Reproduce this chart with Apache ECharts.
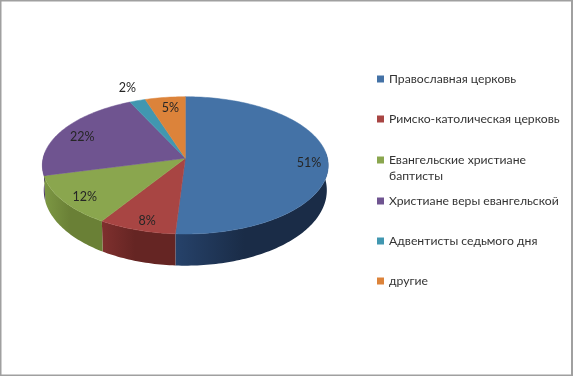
<!DOCTYPE html>
<html>
<head>
<meta charset="utf-8">
<script src="https://cdn.jsdelivr.net/npm/echarts@6/dist/echarts.min.js"></script>
<style>
html, body { margin: 0; padding: 0; background: #fff; }
#main { position: absolute; left: 0; top: 0; width: 573px; height: 376px; }
</style>
</head>
<body>
<div id="main"></div>
<script>
var categories = ['Православная церковь', 'Римско-католическая церковь', 'Евангельские христиане баптисты', 'Христиане веры евангельской', 'Адвентисты седьмого дня', 'другие'];
var shares = [51, 8, 12, 22, 2, 5];
var colors = ['#4472a6', '#a84543', '#8aa64e', '#6f5490', '#4197b0', '#dc833a'];
var wallColors = [['#26426a', '#1a2c47'], ['#7f302e', '#652523'], ['#7d9844', '#6a8036'], ['#4a3864', '#4a3864'], ['#2c6678', '#2c6678'], ['#96592a', '#96592a']];
var labelRadius = [0.85, 0.85, 0.85, 0.85, 1.3, 0.85];

var myChart = echarts.init(document.getElementById('main'));

// центр и наклон диска, с перспективой как в объёмной диаграмме
var cx = 185.3, cy = 158.3, rx = 142.2, ry = 67.9, tilt = 0.1027;
var total = shares.reduce(function (a, b) { return a + b; }, 0);
// стенка видна только спереди
var wallFrom = 84.3 * Math.PI / 180, wallTo = 275.7 * Math.PI / 180;

function project(angle, r) {
    var u = r * Math.sin(angle), v = -r * Math.cos(angle), w = 1 - tilt * v;
    return [cx + rx * u / w, cy + ry * v / w];
}

function upper(angle) {
    return project(angle, 1);
}

function lower(angle) {
    var p = project(angle, 1), v = -Math.cos(angle);
    return [cx + (p[0] - cx) * 0.99, p[1] + 24.1 + 7.6 * v];
}

function arc(a0, a1, fn) {
    var pts = [], n = Math.ceil((a1 - a0) / 0.02);
    for (var i = 0; i <= n; i++) {
        pts.push(fn(a0 + (a1 - a0) * i / n));
    }
    return pts;
}

function renderSlice(params, api) {
    var idx = params.seriesIndex;
    var from = api.value(0), value = api.value(1);
    var a0 = from / total * Math.PI * 2, a1 = (from + value) / total * Math.PI * 2;
    var mid = project((a0 + a1) / 2, labelRadius[idx]);
    var children = [{
        type: 'polygon',
        z2: 2,
        shape: { points: [[cx, cy]].concat(arc(a0, a1, upper)) },
        style: { fill: colors[idx], stroke: colors[idx], lineWidth: 0.5 }
    }, {
        type: 'text',
        z2: 3,
        style: {
            x: mid[0] + 2.5,
            y: mid[1] + 2.5,
            text: value + '%',
            fill: '#262626',
            font: '12.5px Lato',
            align: 'center',
            verticalAlign: 'middle'
        }
    }];
    var w0 = Math.max(a0, wallFrom), w1 = Math.min(a1, wallTo);
    if (w1 > w0) {
        children.push({
            type: 'polygon',
            z2: 1,
            shape: { points: arc(w0, w1, upper).concat(arc(w0, w1, lower).reverse()) },
            style: {
                fill: new echarts.graphic.LinearGradient(0, 0, 1, 0, [
                    { offset: 0, color: wallColors[idx][0] },
                    { offset: 0.45, color: wallColors[idx][1] },
                    { offset: 1, color: wallColors[idx][1] }
                ])
            }
        });
    }
    return { type: 'group', children: children };
}

var running = 0;
var series = categories.map(function (name, i) {
    var item = {
        type: 'custom',
        name: name,
        coordinateSystem: 'none',
        silent: true,
        itemStyle: { color: colors[i] },
        renderItem: renderSlice,
        data: [[running, shares[i]]]
    };
    running += shares[i];
    return item;
});

function legendBlock(names, top) {
    return {
        left: 372,
        top: top,
        orient: 'vertical',
        itemWidth: 7,
        itemHeight: 7,
        itemGap: 24,
        selectedMode: false,
        textStyle: { fontFamily: 'Lato', fontSize: 12.2, color: '#333', lineHeight: 16 },
        // пустая первая строка, чтобы маркер стоял напротив первой строки подписи
        formatter: function (name) {
            return name.replace(/^(.*христиане) (баптисты)$/, '\n$1\n$2');
        },
        icon: 'rect',
        data: names
    };
}

myChart.setOption({
    animation: false,
    legend: [
        legendBlock(categories.slice(0, 2), 66),
        legendBlock(categories.slice(2, 3), 131),
        legendBlock(categories.slice(3), 188)
    ],
    graphic: [{
        type: 'rect',
        silent: true,
        shape: { x: 0.5, y: 0.5, width: 571.5, height: 375 },
        style: { fill: 'none', stroke: '#a0a0a0', lineWidth: 2 }
    }],
    series: series
});
</script>
</body>
</html>
